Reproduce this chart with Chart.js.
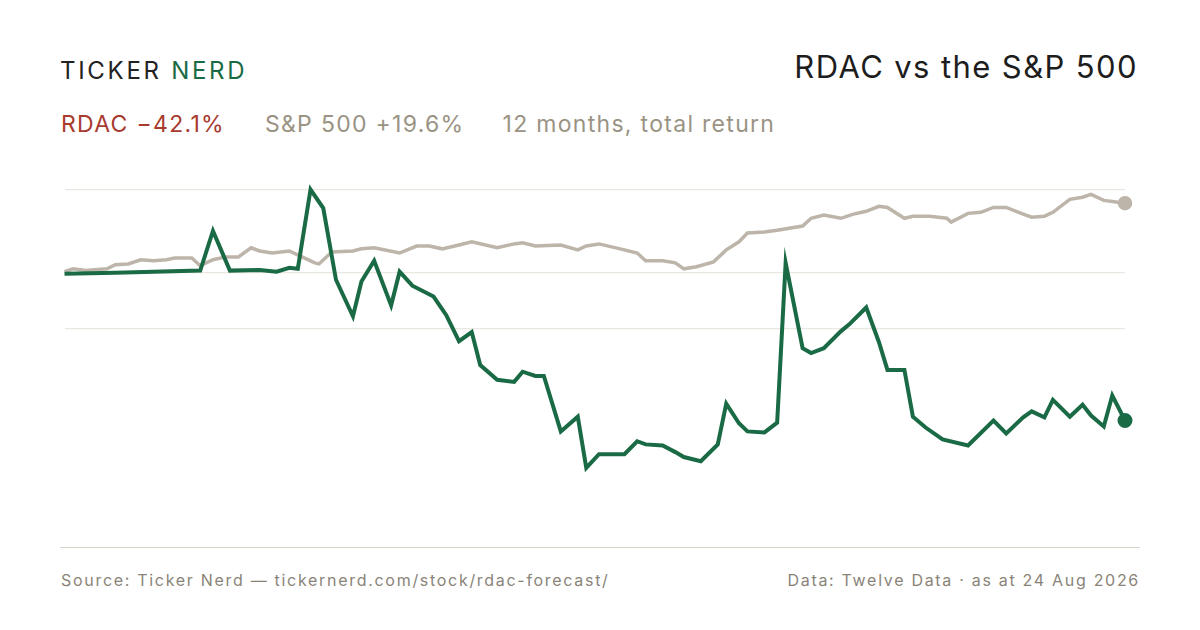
<!DOCTYPE html>
<html>
<head>
<meta charset="utf-8">
<script src="https://cdn.jsdelivr.net/npm/chart.js@4"></script>
<style>
  body { margin: 0; width: 1200px; height: 630px; background: #fff; font-family: Inter, "Noto Sans", sans-serif; position: relative; overflow: hidden; }
  .logo { position: absolute; left: 60px; top: 56px; font-size: 24px; letter-spacing: 2.7px; color: #222; }
  .logo span { color: #1a6b45; }
  .title { position: absolute; right: 62px; top: 48px; font-size: 31px; letter-spacing: 1.4px; color: #1d1d1d; }
  .sub { position: absolute; left: 61px; top: 110px; font-size: 23px; letter-spacing: 1.3px; color: #9a9384; }
  .sub .r { color: #a83a2e; margin-right: 40px; }
  .sub .g { margin-right: 38px; }
  .rule { position: absolute; left: 60px; top: 547px; width: 1080px; height: 1px; background: #d9d5cd; }
  .foot { position: absolute; top: 570px; font-size: 16px; letter-spacing: 1.7px; color: #8a8478; }
  #wrap { position: absolute; left: 55px; top: 180px; width: 1080px; height: 375px; }
</style>
</head>
<body>
<div class="logo">TICKER <span>NERD</span></div>
<div class="title">RDAC vs the S&amp;P 500</div>
<div class="sub"><span class="r">RDAC −42.1%</span><span class="g">S&amp;P 500 +19.6%</span>12 months, total return</div>
<div id="wrap"><canvas id="chart"></canvas></div>
<div class="rule"></div>
<div class="foot" style="left:61px">Source: Ticker Nerd — tickernerd.com/stock/rdac-forecast/</div>
<div class="foot" style="right:60px">Data: Twelve Data · as at 24 Aug 2026</div>
<script>
// trading-day index and % total return
const rdacDays = [0,12,32,35,39,46,50,53,55,58,61,64,68,70,73,77,79,82,87,90,93,96,98,102,106,108,111,113,117,121,123,126,132,135,137,141,144,146,150,154,156,159,161,165,168,170,174,176,179,183,185,189,192,194,198,200,203,207,213,219,222,226,228,231,233,237,240,242,245,247,250];
const rdacValues = [-0.3,0,0.6,11.9,0.6,0.8,0.3,1.4,1.1,23.7,18.4,-2.0,-12.4,-2.5,3.4,-9.3,0.3,-3.7,-6.8,-12.1,-19.5,-16.9,-26.3,-30.5,-31.1,-28.2,-29.4,-29.4,-45.2,-41.0,-55.6,-51.7,-51.7,-48.0,-48.9,-49.2,-51.1,-52.5,-53.7,-48.9,-37.3,-42.9,-45.2,-45.5,-42.7,2.8,-21.5,-22.9,-21.5,-16.7,-14.7,-9.9,-19.8,-27.7,-27.7,-41.0,-44.1,-47.5,-49.2,-42.1,-45.8,-41.2,-39.5,-41.2,-36.2,-41.0,-37.6,-40.7,-43.8,-35.0,-42.1];
const spxDays = [0,2,5,10,12,15,18,21,24,26,30,32,35,38,41,44,46,49,53,56,59,60,63,68,70,73,79,83,86,89,93,96,102,106,108,111,117,121,123,126,132,135,137,141,144,146,149,153,156,159,161,165,168,174,176,179,183,186,189,192,194,198,200,204,208,209,213,216,219,222,226,228,231,233,237,240,242,245,247,250];
const spxValues = [0.3,1.1,0.6,1.1,2.3,2.5,3.7,3.4,3.7,4.2,4.2,2.0,3.7,4.5,4.5,7.1,6.2,5.6,6.2,4.5,2.8,2.5,5.9,6.2,6.8,7.1,5.6,7.6,7.6,6.8,7.9,8.8,7.1,8.2,8.5,7.6,7.9,6.5,7.6,8.2,6.5,5.6,3.4,3.4,2.8,1.1,1.7,3.1,6.5,8.8,11.3,11.6,12.1,13.3,15.5,16.4,15.5,16.7,17.5,18.9,18.6,15.5,16.1,16.1,15.5,14.4,16.9,17.2,18.6,18.6,16.7,15.8,16.1,17.2,20.9,21.5,22.3,20.6,20.3,19.8];
const gridValues = [23.7, 0, -15.8];

function toPoints(days, vals) {
    return days.map((d, i) => ({ x: d, y: vals[i] }));
}
function endDot(n, r) {
    return (ctx) => ctx.dataIndex === n - 1 ? r : 0;
}

new Chart(document.getElementById('chart'), {
    type: 'line',
    data: {
        datasets: [
            {
                label: 'RDAC',
                data: toPoints(rdacDays, rdacValues),
                borderColor: '#1a6b45',
                backgroundColor: '#1a6b45',
                borderWidth: 4,
                tension: 0,
                pointRadius: endDot(rdacDays.length, 5.5),
                clip: false
            },
            {
                label: 'S&P 500',
                data: toPoints(spxDays, spxValues),
                borderColor: '#bdb5a9',
                backgroundColor: '#bdb5a9',
                borderWidth: 3.5,
                tension: 0,
                pointRadius: endDot(spxDays.length, 5.5),
                clip: false
            }
        ]
    },
    options: {
        responsive: true,
        maintainAspectRatio: false,
        animation: false,
        layout: { padding: { left: 8, right: 10, top: 9, bottom: 7 } },
        plugins: { legend: { display: false }, tooltip: { enabled: false } },
        scales: {
            x: { type: 'linear', min: 0, max: 250, display: false },
            y: {
                min: -77.7, max: 23.7,
                afterBuildTicks: (axis) => { axis.ticks = gridValues.map(v => ({ value: v })); },
                ticks: { display: false },
                border: { display: false },
                grid: { color: '#ebe8e2', lineWidth: 1.2, drawTicks: false }
            }
        }
    }
});
</script>
</body>
</html>
